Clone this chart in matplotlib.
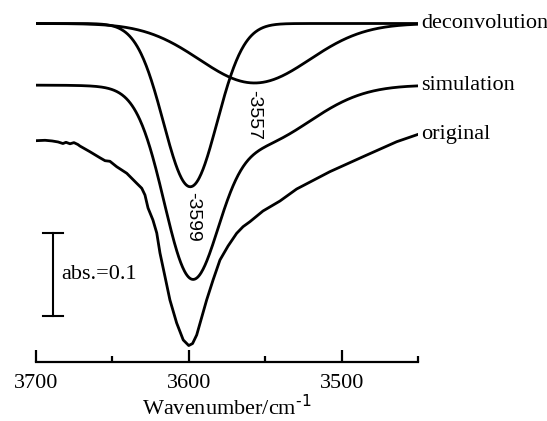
import numpy as np
import matplotlib.pyplot as plt

plt.rcParams['font.family'] = ['Liberation Serif', 'DejaVu Serif']

# measured spectrum (absorbance, already stacked with its plotting offset)
orig_wn = [3700.0, 3693.9, 3689.3, 3685.4, 3682.2, 3680.2, 3677.6, 3675.0, 3672.4,
           3671.1, 3664.6, 3658.1, 3654.7, 3651.5, 3647.1, 3640.5, 3634.0, 3630.7,
           3628.6, 3626.6, 3623.4, 3620.9, 3618.8, 3615.5, 3612.3, 3607.9, 3603.6,
           3600.0, 3597.5, 3594.8, 3588.3, 3584.1, 3579.6, 3574.3, 3568.7, 3564.5,
           3560.0, 3551.5, 3540.4, 3529.5, 3507.8, 3486.1, 3464.1, 3450.0]
orig_abs = [0.2653, 0.2658, 0.2650, 0.2638, 0.2619, 0.2634, 0.2616, 0.2630, 0.2607,
            0.2589, 0.2521, 0.2449, 0.2413, 0.2406, 0.2341, 0.2262, 0.2142, 0.2082,
            0.2001, 0.1845, 0.1701, 0.1545, 0.1305, 0.1020, 0.0741, 0.0465, 0.0261,
            0.0194, 0.0218, 0.0321, 0.0741, 0.0981, 0.1221, 0.1389, 0.1541, 0.1621,
            0.1681, 0.1809, 0.1929, 0.2073, 0.2281, 0.2461, 0.2641, 0.2730]

# fitted bands of the deconvolution
band_centers = [3599, 3557]
band_heights = [0.196, 0.0714]
band_sigmas = [17.5, 36.0]

sim_baseline = 0.332
deconv_baseline = 0.406

scale_abs = 0.1
scale_base = 0.055
scale_wn = 3688.5

wn = np.linspace(3700, 3450, 600)
bands = [h * np.exp(-(wn - c) ** 2 / (2 * s ** 2))
         for c, h, s in zip(band_centers, band_heights, band_sigmas)]
simulation = sim_baseline - sum(bands)

fig = plt.figure(figsize=(5.47, 4.21), dpi=100)
ax = fig.add_axes([35.7 / 547, (421 - 361.7) / 421, 382.6 / 547, 361.7 / 421])

lw = 2.0
ax.plot(orig_wn, orig_abs, color='black', lw=lw)
ax.plot(wn, simulation, color='black', lw=lw)
for b in bands:
    ax.plot(wn, deconv_baseline - b, color='black', lw=lw)

# curve labels at the right end
ax.text(3448, deconv_baseline, 'deconvolution', fontsize=16, ha='left', va='center')
ax.text(3448, sim_baseline, 'simulation', fontsize=16, ha='left', va='center')
ax.text(3448, orig_abs[-1], 'original', fontsize=16, ha='left', va='center')

# peak positions
ax.text(3597.5, 0.174, '-3599', fontsize=14, rotation=-90, ha='center', va='center',
        family='Liberation Sans')
ax.text(3557.5, 0.296, '-3557', fontsize=14, rotation=-90, ha='center', va='center',
        family='Liberation Sans')

# absorbance scale bar
ax.plot([scale_wn, scale_wn], [scale_base, scale_base + scale_abs], color='black', lw=1.5)
for yy in (scale_base, scale_base + scale_abs):
    ax.plot([scale_wn + 6.5, scale_wn - 6.5], [yy, yy], color='black', lw=1.5)
ax.text(scale_wn - 5.5, scale_base + scale_abs / 2, 'abs.=0.1', fontsize=16,
        ha='left', va='center')

ax.set_xlim(3700, 3450)
ax.set_ylim(0, 361.7 / 833)
for side in ('left', 'right', 'top'):
    ax.spines[side].set_visible(False)
ax.spines['bottom'].set_linewidth(1.6)
ax.set_yticks([])
ax.set_xticks([3700, 3600, 3500])
ax.set_xticks([3650, 3550, 3450], minor=True)
ax.tick_params(axis='x', which='major', direction='in', length=9, width=1.6,
               labelsize=16, pad=9)
ax.tick_params(axis='x', which='minor', direction='in', length=4.5, width=1.6)
ax.set_xlabel(r'Wavenumber/cm$^{\text{-1}}$', fontsize=16, labelpad=1)
ax.patch.set_visible(False)

fig.savefig('out.png', dpi=100)
